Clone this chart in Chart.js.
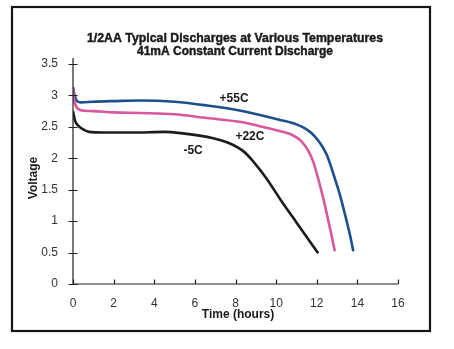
<!DOCTYPE html>
<html><head><meta charset="utf-8">
<script src="https://cdn.jsdelivr.net/npm/chart.js@4/dist/chart.umd.min.js"></script>
<style>html,body{margin:0;padding:0;background:#fff;}canvas{display:block;}</style>
</head><body>
<canvas id="c" width="454" height="349"></canvas>
<script>
// ---- data ----
const titleLines = ["1/2AA Typical Discharges at Various Temperatures", "41mA Constant Current Discharge"];
const xAxisTitle = "Time (hours)";
const yAxisTitle = "Voltage";
const seriesNames = ["+55C", "+22C", "-5C"];

const hours55 = [0,0.08,0.2,0.4,1,2,3.3,5,6.6,8.2,9.2,10.2,11,11.5,11.9,12.25,12.5,12.65,12.9,13.13,13.45,13.65,13.8];
const volts55 = [3.13,3.0,2.91,2.89,2.9,2.91,2.92,2.9,2.84,2.76,2.69,2.61,2.54,2.46,2.35,2.2,2.05,1.92,1.67,1.43,1.03,0.76,0.52];

const hours22 = [0,0.05,0.15,0.35,1,2,3.3,5,6.6,8.2,9.2,10.2,10.8,11.25,11.6,11.82,12.1,12.3,12.48,12.73,12.89];
const volts22 = [3.12,2.95,2.83,2.77,2.75,2.73,2.72,2.70,2.64,2.58,2.51,2.43,2.37,2.27,2.11,1.95,1.64,1.39,1.14,0.77,0.52];

const hoursM5 = [0,0.1,0.25,0.5,0.8,1.5,3,4.5,5.3,6.9,7.7,8.4,8.9,9.5,10.2,11,12.07];
const voltsM5 = [2.75,2.6,2.52,2.46,2.42,2.41,2.41,2.42,2.40,2.32,2.24,2.11,1.94,1.69,1.35,0.98,0.49];

// label anchor positions in data units (hours, volts)
const labelHours = [7.93, 8.71, 5.91];
const labelVolts = [2.95, 2.34, 2.12];

const xMin = 0, xMax = 16, xStep = 2;
const yMin = 0, yMax = 3.5, yStep = 0.5;

const colors = ["#1d4f8e", "#d9589c", "#1c1c1c"];
const drawOrder = [1, 0, 2];

function pts(xs, ys){ return xs.map((x,i)=>({x:x, y:ys[i]})); }

const extras = {
  id: 'extras',
  beforeDraw(chart){
    const ctx = chart.ctx;
    ctx.save();
    ctx.fillStyle = '#fff';
    ctx.fillRect(0,0,chart.width,chart.height);
    ctx.restore();
  },
  afterDraw(chart){
    const ctx = chart.ctx;
    const xs = chart.scales.x, ys = chart.scales.y;
    const x0 = xs.getPixelForValue(xMin), x1 = xs.getPixelForValue(xMax);
    const y0 = ys.getPixelForValue(yMin), y1 = ys.getPixelForValue(yMax);
    ctx.save();
    // frame
    ctx.strokeStyle = '#151515';
    ctx.lineWidth = 2.2;
    ctx.strokeRect(12, 7, 418, 324);
    // axes
    ctx.strokeStyle = '#222';
    ctx.lineWidth = 1.2;
    ctx.beginPath();
    ctx.moveTo(x0, y1 - 6); ctx.lineTo(x0, y0);
    ctx.moveTo(x0, y0); ctx.lineTo(x1, y0);
    ys.ticks.forEach(t => {
      const p = Math.round(ys.getPixelForValue(t.value)) + 0.5;
      ctx.moveTo(x0 - 4.5, p); ctx.lineTo(x0 + 4.5, p);
    });
    xs.ticks.forEach(t => {
      const p = Math.round(xs.getPixelForValue(t.value)) + 0.5;
      ctx.moveTo(p, y0); ctx.lineTo(p, y0 - 4.5);
    });
    ctx.stroke();
    // title
    ctx.fillStyle = '#1a1a1a';
    ctx.strokeStyle = '#1a1a1a';
    ctx.lineWidth = 0.45;
    ctx.textAlign = 'center';
    ctx.textBaseline = 'middle';
    const targetW = [296, 196];
    const tys = [38, 51.5];
    titleLines.forEach((s,i) => {
      ctx.font = 'bold 13.5px "Liberation Sans Narrow", "Liberation Sans", Arial, sans-serif';
      const w = ctx.measureText(s).width;
      const k = targetW[i] / w;
      ctx.save();
      ctx.translate(235, tys[i]);
      ctx.scale(k, 1);
      ctx.fillText(s, 0, 0);
      ctx.strokeText(s, 0, 0);
      ctx.restore();
    });
    // axis titles
    ctx.font = 'bold 12px "Liberation Sans", Arial, sans-serif';
    ctx.fillStyle = '#1a1a1a';
    ctx.fillText(xAxisTitle, 238, 315);
    ctx.save();
    ctx.translate(33.5, 178);
    ctx.rotate(-Math.PI/2);
    ctx.fillText(yAxisTitle, 0, 0);
    ctx.restore();
    // series labels
    ctx.font = 'bold 12px "Liberation Sans", Arial, sans-serif';
    seriesNames.forEach((n,i) => {
      ctx.fillText(n, xs.getPixelForValue(labelHours[i]), ys.getPixelForValue(labelVolts[i]));
    });
    ctx.restore();
  }
};

const ds = (name, xs, ys, col, ord) => ({
  label: name, data: pts(xs, ys), borderColor: col, backgroundColor: col, order: ord,
  borderWidth: 2.6, pointRadius: 0, fill: false, cubicInterpolationMode: 'monotone',
  borderCapStyle: 'butt', borderJoinStyle: 'round'
});

const tickFont = { family: '"Liberation Sans", Arial, sans-serif', size: 12 };

new Chart(document.getElementById('c'), {
  type: 'line',
  data: { datasets: [
    ds(seriesNames[0], hours55, volts55, colors[0], drawOrder[0]),
    ds(seriesNames[1], hours22, volts22, colors[1], drawOrder[1]),
    ds(seriesNames[2], hoursM5, voltsM5, colors[2], drawOrder[2])
  ]},
  options: {
    responsive: false, animation: false, devicePixelRatio: 1,
    layout: { padding: { left: 0, right: 56, top: 64, bottom: 0 } },
    plugins: { legend: { display: false }, title: { display: false }, tooltip: { enabled: false } },
    scales: {
      x: { type: 'linear', min: xMin, max: xMax,
        ticks: { stepSize: xStep, padding: 12, color: '#333', font: tickFont, callback: v => String(v) },
        grid: { display: false, drawTicks: false }, border: { display: false },
        afterFit(s){ s.height = 65; } },
      y: { type: 'linear', min: yMin, max: yMax,
        ticks: { stepSize: yStep, padding: 15, color: '#333', font: tickFont, callback: v => String(v) },
        grid: { display: false, drawTicks: false }, border: { display: false },
        afterFit(s){ s.width = 73; } }
    }
  },
  plugins: [extras]
});
</script>
</body></html>
